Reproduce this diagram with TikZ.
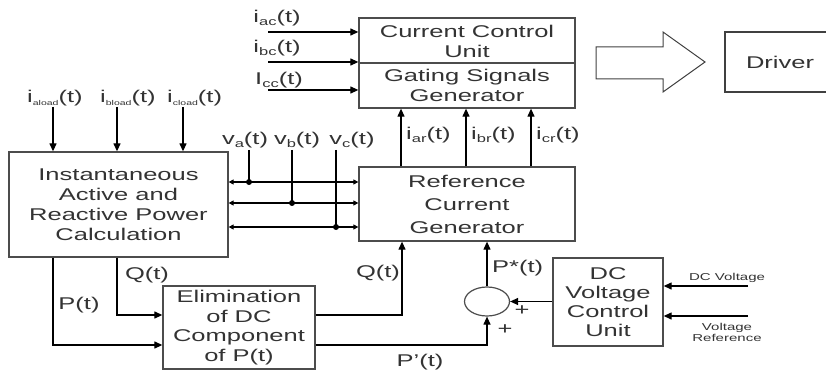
\documentclass[tikz,border=0pt]{standalone}
\usepackage{fontspec}
\setmainfont[FakeStretch=1.5]{Liberation Sans}
\usetikzlibrary{arrows.meta,shapes.geometric}
\newcommand\subtx[2][11]{\raisebox{-0.35ex}{\fontsize{#1}{#1}\selectfont #2}}
\begin{document}
\begin{tikzpicture}[x=1pt,y=-1pt,
  font=\fontsize{17}{20}\selectfont, text=black!80,
  box/.style={draw=black!70, line width=1.3pt, inner sep=0pt, align=center},
  wire/.style={line width=1.2pt, draw=black},
  arr/.style={wire, -{Triangle[length=8pt,width=7pt]}},
  busarr/.style={wire, {Triangle[length=5pt,width=5pt]}-{Triangle[length=5pt,width=5pt]}},
  lbl/.style={inner sep=0pt},
  small/.style={font=\fontsize{10}{11}\selectfont},
  dot/.style={circle, fill=black, inner sep=0pt, minimum size=6pt}]
\useasboundingbox (0,0) rectangle (826,371);

% blocks
\node[box, minimum width=216pt, minimum height=90pt] (ccu) at (467,63) {};
\draw[box] (ccu.west) -- (ccu.east);
\node[lbl, align=center] (ccutop) at (467,41) {Current Control\\Unit};
\node[lbl, align=center] (ccubot) at (467,85) {Gating Signals\\Generator};

\node[box, minimum width=219pt, minimum height=105pt] (inst) at (118.5,204.5)
  {Instantaneous\\Active and\\Reactive Power\\Calculation};
\node[box, minimum width=216pt, minimum height=74pt, font=\fontsize{17}{23}\selectfont] (ref) at (467,204)
  {Reference\\Current\\Generator};
\node[box, minimum width=152pt, minimum height=83pt, font=\fontsize{17}{19.5}\selectfont] (elim) at (239,327.5)
  {Elimination\\of DC\\Component\\of P(t)};
\node[box, minimum width=110pt, minimum height=88pt, font=\fontsize{17}{19}\selectfont] (dcv) at (608,302)
  {DC\\Voltage\\Control\\Unit};
\node[ellipse, draw=black!70, line width=1.2pt, minimum width=45pt, minimum height=29pt, inner sep=0pt] (sum) at (487,301.5) {};

% driver and block arrow
\node[lbl] (driver) at (780,62) {Driver};
\draw[draw=black!75, line width=1.1pt] (826,32) -- (725,32) -- (725,92) -- (826,92);
\draw[draw=black!75, line width=1pt] (596,47) -- (663,47) -- (663,32) -- (705,62)
  -- (663,92) -- (663,79) -- (596,79) -- cycle;

% current inputs to control unit
\coordinate (iac) at (268,32);
\coordinate (ibc) at (268,62);
\coordinate (icc) at (268,90);
\draw[arr] (iac) -- (iac -| ccu.west);
\draw[arr] (ibc) -- (ibc -| ccu.west);
\draw[arr] (icc) -- (icc -| ccu.west);
\node[lbl] (liac) at (277,18) {i\subtx{ac}(t)};
\node[lbl] (libc) at (277,48) {i\subtx{bc}(t)};
\node[lbl] (licc) at (279,80) {I\subtx{cc}(t)};

% load currents
\coordinate (la) at (53,107);
\coordinate (lb) at (117,107);
\coordinate (lc) at (183,107);
\draw[arr] (la) -- (la |- inst.north);
\draw[arr] (lb) -- (lb |- inst.north);
\draw[arr] (lc) -- (lc |- inst.north);
\node[lbl, anchor=west] (lla) at (27,98) {i\subtx[7]{aload}(t)};
\node[lbl, anchor=west] (llb) at (100,98) {i\subtx[7]{bload}(t)};
\node[lbl, anchor=west] (llc) at (167,98) {i\subtx[7]{cload}(t)};

% voltage bus
\coordinate (b1) at (0,182);
\coordinate (b2) at (0,203);
\coordinate (b3) at (0,227);
\draw[busarr] (inst.east |- b1) -- (ref.west |- b1);
\draw[busarr] (inst.east |- b2) -- (ref.west |- b2);
\draw[busarr] (inst.east |- b3) -- (ref.west |- b3);
\coordinate (va) at (249,150);
\coordinate (vb) at (292,150);
\coordinate (vc) at (336,150);
\node[dot] (da) at (va |- b1) {};
\node[dot] (db) at (vb |- b2) {};
\node[dot] (dc) at (vc |- b3) {};
\draw[wire] (va) -- (da.center);
\draw[wire] (vb) -- (db.center);
\draw[wire] (vc) -- (dc.center);
\node[lbl] (lva) at (245,140) {v\subtx{a}(t)};
\node[lbl] (lvb) at (297,140) {v\subtx{b}(t)};
\node[lbl] (lvc) at (352,140) {v\subtx{c}(t)};

% reference currents
\coordinate (xar) at (401,0);
\coordinate (xbr) at (466,0);
\coordinate (xcr) at (531,0);
\draw[arr] (ref.north -| xar) -- (ccu.south -| xar);
\draw[arr] (ref.north -| xbr) -- (ccu.south -| xbr);
\draw[arr] (ref.north -| xcr) -- (ccu.south -| xcr);
\node[lbl, anchor=west] (liar) at (406,135) {i\subtx{ar}(t)};
\node[lbl, anchor=west] (libr) at (471,135) {i\subtx{br}(t)};
\node[lbl, anchor=west] (licr) at (536,135) {i\subtx{cr}(t)};

% P and Q
\coordinate (xP) at (53,0);
\coordinate (xQ) at (117,0);
\coordinate (yP) at (0,345);
\coordinate (yQ) at (0,315);
\coordinate (xQo) at (402,0);
\draw[arr] (inst.south -| xP) |- (elim.west |- yP);
\draw[arr] (inst.south -| xQ) |- (elim.west |- yQ);
\draw[arr] (elim.east |- yQ) -| (ref.south -| xQo);
\draw[arr] (elim.east |- yP) -| (sum.south);
\draw[arr] (sum.north) -- (ref.south -| sum.north);
\draw[arr] (dcv.west |- sum.east) -- (sum.east);
\node[lbl] (lP) at (79,305) {P(t)};
\node[lbl] (lQ) at (147,275) {Q(t)};
\node[lbl] (lQo) at (378,273) {Q(t)};
\node[lbl] (lPp) at (420,362) {P'(t)};
\node[lbl, anchor=west] (lPs) at (492,268) {P*(t)};
\node[lbl] (plus1) at (522,311) {+};
\node[lbl] (plus2) at (505,330) {+};

% DC voltage control inputs
\coordinate (dcin) at (748,286);
\coordinate (vrin) at (748,316);
\draw[arr] (dcin) -- (dcin -| dcv.east);
\draw[arr] (vrin) -- (vrin -| dcv.east);
\node[lbl, small] (ldc) at (727,278) {DC Voltage};
\node[lbl, small, align=center] (lvr) at (727,332.5) {Voltage\\Reference};
\end{tikzpicture}
\end{document}
